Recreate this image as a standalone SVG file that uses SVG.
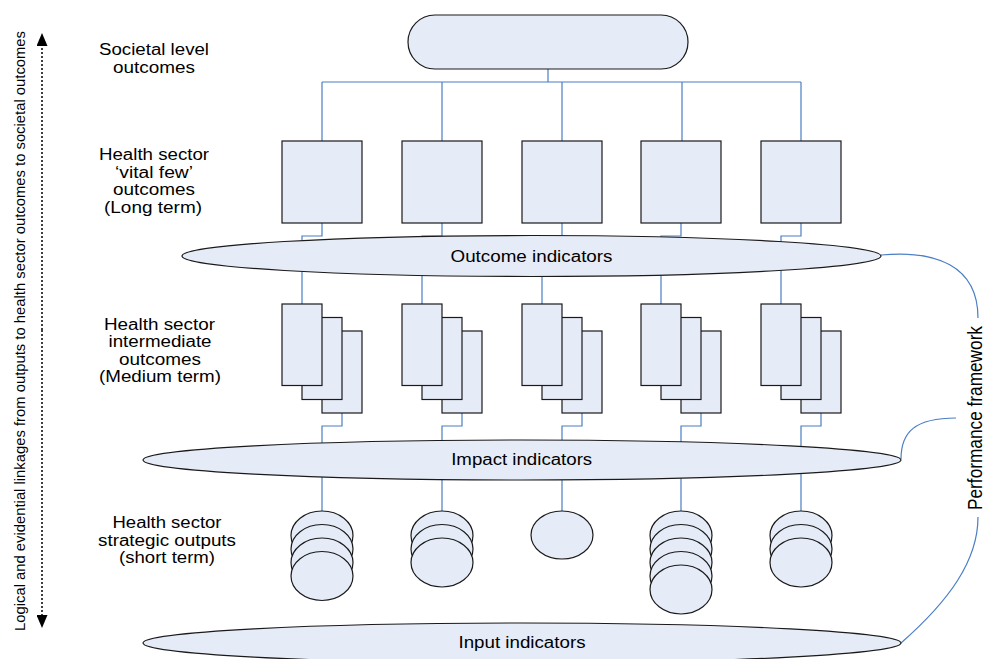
<svg xmlns="http://www.w3.org/2000/svg" width="989" height="659" viewBox="0 0 989 659">
<style>
.shape{fill:#E6ECF7;stroke:#1a1a1a;stroke-width:1.2}
.conn{fill:none;stroke:#4A7EC4;stroke-width:1.2}
.lbl{font-family:"Liberation Sans",Arial,sans-serif;font-size:16px;fill:#000;text-anchor:middle}
.dots{stroke:#000;stroke-width:1.5;stroke-dasharray:2 2;fill:none}
</style>
<defs>
<marker id="ah" viewBox="0 0 13 11" refX="0" refY="5.5" markerWidth="13" markerHeight="11" markerUnits="userSpaceOnUse" orient="auto">
<path d="M0,0 L13,5.5 L0,11 Z" fill="#000"/>
</marker>
</defs>
<rect width="989" height="659" fill="#fff"/>

<g id="connectors" class="conn">
<path d="M548,69 V82 M322,82 H801 M322,82 V141 M442,82 V141 M562,82 V141 M682,82 V141 M801,82 V141"/>
<path d="M322,223 V236 H302 V256 M442,223 V236 H422 V256 M562,223 V236 H542 V256 M681,223 V236 H661 V256 M801,223 V236 H781 V256"/>
<path d="M302,256 V304 M422,256 V304 M542,256 V304 M661,256 V304 M781,256 V304"/>
<path d="M342,413 V426 H322 V460 M462,413 V426 H442 V460 M582,413 V426 H562 V460 M701,413 V426 H681 V460 M821,413 V426 H801 V460"/>
<path d="M322,460 V511 M442,460 V511 M562,460 V511 M681,460 V511 M801,460 V511"/>
<path d="M881,255 C935,250 978,265 978,318"/>
<path d="M901,459 C901,432 915,418 956,418"/>
<path d="M901,643 C950,600 978,560 978,517"/>
</g>

<g id="societal">
<rect class="shape" x="408" y="15" width="280" height="54" rx="27" ry="27"/>
</g>

<g id="vital-few">
<rect class="shape" x="282" y="141" width="80" height="82"/>
<rect class="shape" x="402" y="141" width="80" height="82"/>
<rect class="shape" x="522" y="141" width="80" height="82"/>
<rect class="shape" x="641" y="141" width="80" height="82"/>
<rect class="shape" x="761" y="141" width="80" height="82"/>
</g>

<g id="outcome-indicators">
<ellipse class="shape" cx="531.5" cy="256" rx="349.5" ry="20.5"/>
<text class="lbl" x="531.5" y="261.5" textLength="162" lengthAdjust="spacingAndGlyphs">Outcome indicators</text>
</g>

<g id="intermediate">
<g>
<rect class="shape" x="322" y="331" width="40" height="82"/>
<rect class="shape" x="302" y="317.5" width="40" height="82"/>
<rect class="shape" x="282" y="304" width="40" height="81.5"/>
</g>
<g>
<rect class="shape" x="442" y="331" width="40" height="82"/>
<rect class="shape" x="422" y="317.5" width="40" height="82"/>
<rect class="shape" x="402" y="304" width="40" height="81.5"/>
</g>
<g>
<rect class="shape" x="562" y="331" width="40" height="82"/>
<rect class="shape" x="542" y="317.5" width="40" height="82"/>
<rect class="shape" x="522" y="304" width="40" height="81.5"/>
</g>
<g>
<rect class="shape" x="681" y="331" width="40" height="82"/>
<rect class="shape" x="661" y="317.5" width="40" height="82"/>
<rect class="shape" x="641" y="304" width="40" height="81.5"/>
</g>
<g>
<rect class="shape" x="801" y="331" width="40" height="82"/>
<rect class="shape" x="781" y="317.5" width="40" height="82"/>
<rect class="shape" x="761" y="304" width="40" height="81.5"/>
</g>
</g>

<g id="impact-indicators">
<ellipse class="shape" cx="522" cy="460" rx="379" ry="20"/>
<text class="lbl" x="521.7" y="465" textLength="141" lengthAdjust="spacingAndGlyphs">Impact indicators</text>
</g>

<g id="strategic-outputs">
<g>
<ellipse class="shape" cx="322" cy="535.5" rx="31" ry="24.5"/>
<ellipse class="shape" cx="322" cy="549" rx="31" ry="24.5"/>
<ellipse class="shape" cx="322" cy="562.5" rx="31" ry="24.5"/>
<ellipse class="shape" cx="322" cy="576" rx="31" ry="24.5"/>
</g>
<g>
<ellipse class="shape" cx="442" cy="535.5" rx="31" ry="24.5"/>
<ellipse class="shape" cx="442" cy="549" rx="31" ry="24.5"/>
<ellipse class="shape" cx="442" cy="562.5" rx="31" ry="24.5"/>
</g>
<g>
<ellipse class="shape" cx="562" cy="535" rx="31" ry="24"/>
</g>
<g>
<ellipse class="shape" cx="681" cy="535.5" rx="31" ry="24.5"/>
<ellipse class="shape" cx="681" cy="549" rx="31" ry="24.5"/>
<ellipse class="shape" cx="681" cy="562.5" rx="31" ry="24.5"/>
<ellipse class="shape" cx="681" cy="576" rx="31" ry="24.5"/>
<ellipse class="shape" cx="681" cy="589.5" rx="31" ry="24.5"/>
</g>
<g>
<ellipse class="shape" cx="801" cy="535.5" rx="31" ry="24.5"/>
<ellipse class="shape" cx="801" cy="549" rx="31" ry="24.5"/>
<ellipse class="shape" cx="801" cy="562.5" rx="31" ry="24.5"/>
</g>
</g>

<g id="input-indicators">
<ellipse class="shape" cx="522" cy="643" rx="379" ry="20"/>
<text class="lbl" x="522" y="648" textLength="127" lengthAdjust="spacingAndGlyphs">Input indicators</text>
</g>

<g id="level-labels" class="lbl">
<text x="154" y="55" textLength="110" lengthAdjust="spacingAndGlyphs">Societal level</text>
<text x="154" y="72.5" textLength="82" lengthAdjust="spacingAndGlyphs">outcomes</text>
<text x="154" y="160" textLength="110" lengthAdjust="spacingAndGlyphs">Health sector</text>
<text x="154" y="177.5" textLength="78" lengthAdjust="spacingAndGlyphs">‘vital few’</text>
<text x="154" y="195" textLength="82" lengthAdjust="spacingAndGlyphs">outcomes</text>
<text x="153" y="212.5" textLength="98" lengthAdjust="spacingAndGlyphs">(Long term)</text>
<text x="159.5" y="329.5" textLength="111" lengthAdjust="spacingAndGlyphs">Health sector</text>
<text x="160" y="347" textLength="103" lengthAdjust="spacingAndGlyphs">intermediate</text>
<text x="160" y="364.5" textLength="82" lengthAdjust="spacingAndGlyphs">outcomes</text>
<text x="160" y="382" textLength="122" lengthAdjust="spacingAndGlyphs">(Medium term)</text>
<text x="167" y="528" textLength="109" lengthAdjust="spacingAndGlyphs">Health sector</text>
<text x="167" y="545.5" textLength="138" lengthAdjust="spacingAndGlyphs">strategic outputs</text>
<text x="167" y="563" textLength="96" lengthAdjust="spacingAndGlyphs">(short term)</text>
</g>

<g id="linkage-axis">
<path class="dots" d="M42,330 V46" marker-end="url(#ah)"/>
<path class="dots" d="M42,330 V615" marker-end="url(#ah)"/>
<text class="lbl" transform="translate(25,331) rotate(-90)" x="0" y="0" style="font-size:15px" textLength="600" lengthAdjust="spacingAndGlyphs">Logical and evidential linkages from outputs to health sector outcomes to societal outcomes</text>
</g>

<g id="performance-framework">
<text class="lbl" transform="translate(982,418) rotate(-90)" x="0" y="0" style="font-size:20px" textLength="184" lengthAdjust="spacingAndGlyphs">Performance framework</text>
</g>
</svg>
